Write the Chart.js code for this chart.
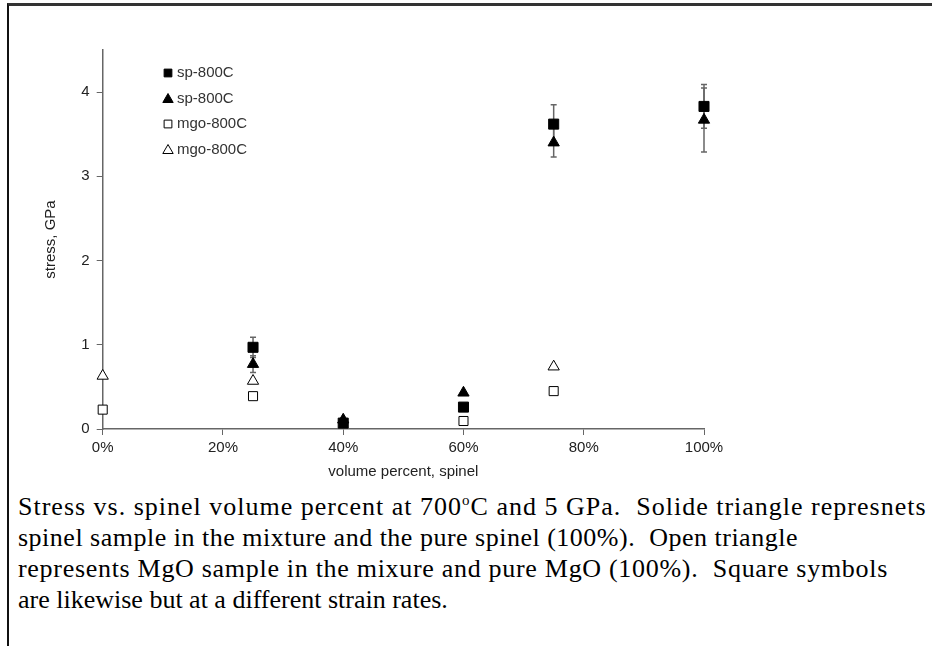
<!DOCTYPE html>
<html>
<head>
<meta charset="utf-8">
<script src="https://cdn.jsdelivr.net/npm/chart.js@4.4.0/dist/chart.umd.min.js"></script>
<style>
body { margin: 0; background: #fff; width: 932px; height: 646px; overflow: hidden; position: relative; }
#frame { position: absolute; left: 7px; top: 3px; right: -5px; bottom: -5px; border-top: 3px solid #333; border-left: 2px solid #111; }
#wrap { position: absolute; left: 0; top: 0; }
#caption { position: absolute; left: 18px; top: 491px; font-family: 'Liberation Serif', 'Times New Roman', serif; font-size: 26px; line-height: 31px; color: #000; white-space: pre; }
#caption div { height: 31px; }
#caption sup { font-size: 15px; line-height: 0; vertical-align: 10px; }
</style>
</head>
<body>
<div id="frame"></div>
<div id="wrap"><canvas id="stressChart" width="932" height="490"></canvas></div>
<div id="caption"><div style="letter-spacing:1px">Stress vs. spinel volume percent at 700<sup>o</sup>C and 5 GPa.  Solide triangle represnets</div><div style="letter-spacing:0.5px">spinel sample in the mixture and the pure spinel (100%).  Open triangle</div><div style="letter-spacing:0.7px">represents MgO sample in the mixure and pure MgO (100%).  Square symbols</div><div>are likewise but at a different strain rates.</div></div>
<script>
// values (x = volume percent spinel, y = stress in GPa)
const pctSpSq = [25, 40, 60, 75, 100];
const stressSpSq = [0.97, 0.07, 0.26, 3.62, 3.83];
const errSpSq = [0.12, 0, 0, 0.23, 0.26];

const pctSpTri = [25, 40, 60, 75, 100];
const stressSpTri = [0.77, 0.11, 0.43, 3.40, 3.67];
const errSpTri = [0.10, 0, 0, 0.17, 0.38];

const pctMgoSq = [0, 25, 60, 75];
const stressMgoSq = [0.23, 0.39, 0.095, 0.45];

const pctMgoTri = [0, 25, 75];
const stressMgoTri = [0.63, 0.57, 0.74];

const seriesLabels = ['sp-800C', 'sp-800C', 'mgo-800C', 'mgo-800C'];
const xTicks = [0, 20, 40, 60, 80, 100];
const yTicks = [0, 1, 2, 3, 4];

const toPoints = (xs, ys) => xs.map((x, i) => ({ x: x, y: ys[i] }));
const axisGray = '#666';
const textColor = '#222';
const axisFont = { family: 'Arial, "Liberation Sans", sans-serif', size: 15 };

// error bars drawn under the markers
const errorBars = {
    id: 'errorBars',
    beforeDatasetsDraw(chart) {
        const ctx = chart.ctx;
        const xs = chart.scales.x, ys = chart.scales.y;
        ctx.save();
        ctx.strokeStyle = axisGray;
        ctx.lineWidth = 1.5;
        chart.data.datasets.forEach(ds => {
            if (!ds.errors) return;
            ds.data.forEach((p, i) => {
                const e = ds.errors[i];
                if (!e) return;
                const px = xs.getPixelForValue(p.x);
                const top = ys.getPixelForValue(p.y + e);
                const bot = ys.getPixelForValue(p.y - e);
                ctx.beginPath();
                ctx.moveTo(px, top); ctx.lineTo(px, bot);
                ctx.moveTo(px - 3, top); ctx.lineTo(px + 3, top);
                ctx.moveTo(px - 3, bot); ctx.lineTo(px + 3, bot);
                ctx.stroke();
            });
        });
        ctx.restore();
    }
};

// vertical legend inside the plot, top left
const plotLegend = {
    id: 'plotLegend',
    afterDraw(chart) {
        const ctx = chart.ctx;
        ctx.save();
        ctx.font = '15px Arial, "Liberation Sans", sans-serif';
        ctx.textBaseline = 'middle';
        chart.data.datasets.forEach((ds, i) => {
            const y = 73 + i * 25.5;
            ctx.fillStyle = ds.backgroundColor;
            ctx.strokeStyle = ds.borderColor;
            ctx.lineWidth = ds.borderWidth;
            Chart.helpers.drawPoint(ctx, {
                pointStyle: ds.pointStyle, rotation: 0,
                radius: ds.pointStyle === 'rect' ? 5.5 : 6,
                borderWidth: ds.borderWidth
            }, 168, y + (ds.pointStyle === 'triangle' ? 1 : 0));
            ctx.fillStyle = '#333';
            ctx.fillText(ds.label, 177, y);
        });
        ctx.restore();
    }
};

const stressChart = new Chart(document.getElementById('stressChart').getContext('2d'), {
    type: 'scatter',
    data: {
        datasets: [{
            label: seriesLabels[0],
            data: toPoints(pctSpSq, stressSpSq),
            errors: errSpSq,
            pointStyle: 'rect',
            pointRadius: 7.1,
            backgroundColor: '#000',
            borderColor: '#000',
            borderWidth: 1,
            clip: false
        }, {
            label: seriesLabels[1],
            data: toPoints(pctSpTri, stressSpTri),
            errors: errSpTri,
            pointStyle: 'triangle',
            pointRadius: 6.5,
            backgroundColor: '#000',
            borderColor: '#000',
            borderWidth: 1,
            clip: false
        }, {
            label: seriesLabels[2],
            data: toPoints(pctMgoSq, stressMgoSq),
            pointStyle: 'rect',
            pointRadius: 6.4,
            backgroundColor: '#fff',
            borderColor: '#000',
            borderWidth: 1,
            clip: false
        }, {
            label: seriesLabels[3],
            data: toPoints(pctMgoTri, stressMgoTri),
            pointStyle: 'triangle',
            pointRadius: 6.5,
            backgroundColor: '#fff',
            borderColor: '#000',
            borderWidth: 1,
            clip: false
        }]
    },
    options: {
        responsive: false,
        animation: false,
        layout: { padding: { left: 36, top: 50, right: 228, bottom: 0 } },
        scales: {
            x: {
                type: 'linear',
                min: 0,
                max: 100,
                afterBuildTicks: s => { s.ticks = xTicks.map(v => ({ value: v })); },
                afterFit: s => { s.height = 61; },
                grid: { drawOnChartArea: false, drawTicks: true, tickLength: 6, color: axisGray },
                border: { color: axisGray, width: 1.5 },
                ticks: {
                    color: textColor, font: axisFont, padding: 4, maxRotation: 0,
                    callback: v => v + '%'
                },
                title: {
                    display: true, text: 'volume percent, spinel', color: textColor,
                    font: axisFont, padding: { top: 0, bottom: 9 }
                }
            },
            y: {
                type: 'linear',
                min: 0,
                max: 4.5,
                afterBuildTicks: s => { s.ticks = yTicks.map(v => ({ value: v })); },
                afterFit: s => { s.width = 66.7; },
                grid: { drawOnChartArea: false, drawTicks: true, tickLength: 6, color: axisGray },
                border: { color: axisGray, width: 1.5 },
                ticks: { color: textColor, font: axisFont, padding: 7 },
                title: {
                    display: true, text: 'stress, GPa', color: textColor,
                    font: axisFont, padding: { top: 6, bottom: 0 }
                }
            }
        },
        plugins: {
            legend: { display: false },
            tooltip: { enabled: false }
        }
    },
    plugins: [errorBars, plotLegend]
});
</script>
</body>
</html>
